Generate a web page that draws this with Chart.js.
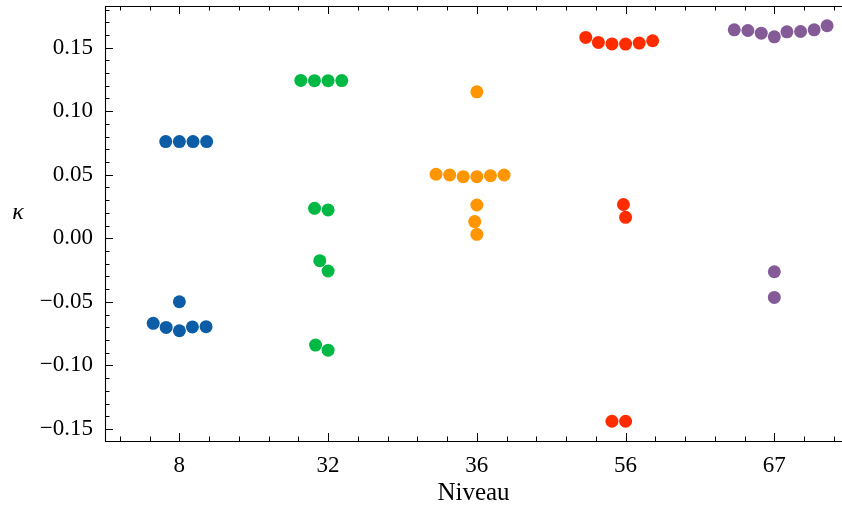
<!DOCTYPE html>
<html><head><meta charset="utf-8">
<script src="https://cdn.jsdelivr.net/npm/chart.js@4/dist/chart.umd.min.js"></script>
<style>
html,body{margin:0;padding:0;overflow:hidden;background:#fff}
canvas{display:block}
</style>
</head><body>
<canvas id="c" width="842" height="511" style="width:842px;height:511px"></canvas>
<script>
// ---- data ----
const categories = ['8', '32', '36', '56', '67'];
const kappa8  = [0.0761, 0.0761, 0.0761, 0.0761, -0.0499, -0.0669, -0.0701, -0.0727, -0.0697, -0.0695];
const kappa32 = [0.1240, 0.1240, 0.1241, 0.1242, 0.0236, 0.0223, -0.0176, -0.0257, -0.0840, -0.0880];
const kappa36 = [0.1152, 0.0504, 0.0498, 0.0485, 0.0485, 0.0493, 0.0498, 0.0262, 0.0132, 0.0031];
const kappa56 = [0.1580, 0.1541, 0.1529, 0.1528, 0.1536, 0.1554, 0.0266, 0.0165, -0.1439, -0.1439];
const kappa67 = [0.1640, 0.1635, 0.1614, 0.1585, 0.1624, 0.1627, 0.1640, 0.1672, -0.0263, -0.0465];
const seriesValues = [kappa8, kappa32, kappa36, kappa56, kappa67];
const yTickValues = [-0.15, -0.10, -0.05, 0.00, 0.05, 0.10, 0.15];
const xAxisLabel = 'Niveau';
const yAxisLabel = 'κ';

// ---- style ----
const seriesColors = ['#0C5DA5', '#00B945', '#FF9500', '#FF2C00', '#845B97'];
const POINT_R = 6.5;
const FONT = '"Liberation Serif", "DejaVu Serif", serif';
// visible x range (the reference figure is cut just before x = 4.5 on the right)
const X_MIN = -0.5, X_MAX = 4.455;

// y range as matplotlib autoscale (5% margins)
const allVals = seriesValues.flat();
const vMin = Math.min(...allVals), vMax = Math.max(...allVals);
const yMin = vMin - 0.05 * (vMax - vMin), yMax = vMax + 0.05 * (vMax - vMin);

// ---- seaborn-like beeswarm (in pixel space) ----
function beeswarm(us, r) {
  const swarm = [{x: 0, y: us[0]}];
  for (let i = 1; i < us.length; i++) {
    const yi = us[i];
    const nb = [];
    for (let j = swarm.length - 1; j >= 0; j--) {
      if (yi - swarm[j].y < 2 * r) nb.push(swarm[j]); else break;
    }
    const cand = [0];
    let leftFirst = true;
    for (const n of nb) {
      const dy = yi - n.y;
      const dx = Math.sqrt(Math.max(4 * r * r - dy * dy, 0)) * 1.05;
      if (leftFirst) cand.push(n.x - dx, n.x + dx); else cand.push(n.x + dx, n.x - dx);
      leftFirst = !leftFirst;
    }
    const sorted = cand.map((x, idx) => ({x, idx}))
      .sort((a, b) => (Math.abs(a.x) - Math.abs(b.x)) || (a.idx - b.idx));
    let chosen = sorted[0].x;
    if (nb.length) {
      for (const c of sorted) {
        if (nb.every(n => (n.x - c.x) ** 2 + (n.y - yi) ** 2 >= 4 * r * r)) { chosen = c.x; break; }
      }
    }
    swarm.push({x: chosen, y: yi});
  }
  return swarm.map(s => s.x);
}

function applySwarm(chart) {
  const xs = chart.scales.x, ys = chart.scales.y;
  const catW = xs.getPixelForValue(1) - xs.getPixelForValue(0);
  const half = 0.8 * catW / 2;
  chart.data.datasets.forEach((ds, ci) => {
    const vals = seriesValues[ci];
    const cx = xs.getPixelForValue(ci);
    const order = vals.map((v, k) => ({k, u: -ys.getPixelForValue(v)}))
      .sort((a, b) => (a.u - b.u) || (a.k - b.k));
    const offs = beeswarm(order.map(o => o.u), POINT_R);
    const xOff = new Array(vals.length);
    order.forEach((o, n) => { xOff[o.k] = Math.max(-half, Math.min(half, offs[n])); });
    ds.data = vals.map((v, k) => ({x: xs.getValueForPixel(cx + xOff[k]), y: v}));
  });
  chart.update('none');
}

// ---- frame + inward ticks ----
const framePlugin = {
  id: 'frame',
  afterDatasetsDraw(chart) {
    const {ctx, chartArea: a, scales: {x, y}} = chart;
    ctx.save();
    ctx.strokeStyle = '#000';
    ctx.lineWidth = 1;
    const majL = 8, minL = 4.5;
    ctx.beginPath();
    const vt = (v, len) => {
      const p = Math.round(x.getPixelForValue(v)) + 0.5;
      ctx.moveTo(p, a.bottom); ctx.lineTo(p, a.bottom - len);
      ctx.moveTo(p, a.top); ctx.lineTo(p, a.top + len);
    };
    const ht = (v, len) => {
      const p = Math.round(y.getPixelForValue(v)) + 0.5;
      ctx.moveTo(a.left, p); ctx.lineTo(a.left + len, p);
    };
    categories.forEach((c, i) => vt(i, majL));
    for (let i = -1; i < categories.length; i++) {
      for (let k = 1; k < 5; k++) {
        const v = i + k / 5;
        if (v > x.min && v < x.max) vt(v, minL);
      }
    }
    yTickValues.forEach(v => ht(v, majL));
    for (let m = Math.ceil(yMin * 100); m <= Math.floor(yMax * 100); m++) {
      if (m % 5 !== 0) ht(m / 100, minL);
    }
    ctx.stroke();
    // spines: left, top, bottom (the right one lies outside the visible figure)
    ctx.lineWidth = 1.1;
    const L = Math.round(a.left) + 0.5, T = Math.round(a.top) + 0.5, B = Math.round(a.bottom) + 0.5;
    ctx.beginPath();
    ctx.moveTo(chart.width, T); ctx.lineTo(L, T); ctx.lineTo(L, B); ctx.lineTo(chart.width, B);
    ctx.stroke();
    ctx.restore();
  },
  afterDraw(chart) {
    const {ctx, chartArea: a} = chart;
    ctx.save();
    ctx.fillStyle = '#000';
    ctx.font = 'italic 24px ' + FONT;
    ctx.textAlign = 'center';
    ctx.textBaseline = 'middle';
    ctx.fillText(yAxisLabel, 18, (a.top + a.bottom) / 2 - 11);
    ctx.restore();
  }
};

const chart = new Chart(document.getElementById('c'), {
  type: 'scatter',
  data: {
    datasets: seriesValues.map((vals, ci) => ({
      label: categories[ci],
      data: vals.map(v => ({x: ci, y: v})),
      backgroundColor: seriesColors[ci],
      borderWidth: 0,
      pointRadius: POINT_R,
      pointHoverRadius: POINT_R
    }))
  },
  options: {
    responsive: false,
    animation: false,
    devicePixelRatio: 1,
    layout: {autoPadding: false, padding: {top: 6, right: 0, left: 0, bottom: 0}},
    plugins: {legend: {display: false}, tooltip: {enabled: false}},
    scales: {
      x: {
        type: 'linear', min: X_MIN, max: X_MAX,
        afterBuildTicks: s => { s.ticks = categories.map((c, i) => ({value: i})); },
        afterFit: s => { s.height = 70; s.paddingLeft = 0; s.paddingRight = 0; },
        grid: {display: false, drawTicks: false},
        border: {display: false},
        ticks: {
          autoSkip: false, maxRotation: 0, padding: 11, color: '#000',
          font: {family: FONT, size: 23},
          callback: (v, i) => categories[i]
        },
        title: {display: true, text: xAxisLabel, color: '#000',
                font: {family: FONT, size: 25}, padding: {top: 0, bottom: 3}}
      },
      y: {
        type: 'linear', min: yMin, max: yMax,
        afterBuildTicks: s => { s.ticks = yTickValues.map(v => ({value: v})); },
        afterFit: s => { s.width = 105; s.paddingTop = 0; s.paddingBottom = 0; },
        grid: {display: false, drawTicks: false},
        border: {display: false},
        ticks: {
          padding: 12, color: '#000',
          font: {family: FONT, size: 23},
          callback: v => (v < -1e-9 ? '\u2212' : '') + Math.abs(v).toFixed(2)
        }
      }
    }
  },
  plugins: [framePlugin]
});
applySwarm(chart);
</script>
</body></html>
